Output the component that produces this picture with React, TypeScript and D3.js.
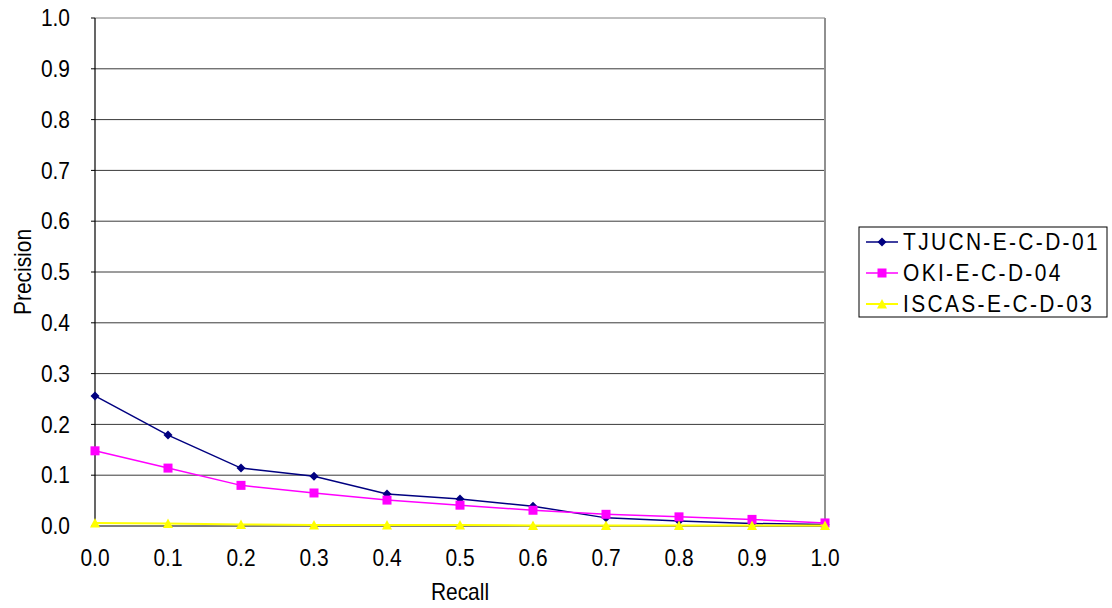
import React from "react";
import * as d3 from "d3";

const recall = [0.0, 0.1, 0.2, 0.3, 0.4, 0.5, 0.6, 0.7, 0.8, 0.9, 1.0];
const tjucn = [0.256, 0.179, 0.114, 0.098, 0.063, 0.053, 0.039, 0.016, 0.01, 0.005, 0.003];
const oki = [0.148, 0.114, 0.08, 0.065, 0.051, 0.041, 0.031, 0.023, 0.018, 0.013, 0.006];
const iscas = [0.006, 0.005, 0.003, 0.002, 0.002, 0.002, 0.001, 0.001, 0.001, 0.001, 0.001];
const seriesNames = ["TJUCN-E-C-D-01", "OKI-E-C-D-04", "ISCAS-E-C-D-03"];
const seriesColors = ["#000080", "#FF00FF", "#FFFF00"];
const yTicks = [0, 0.1, 0.2, 0.3, 0.4, 0.5, 0.6, 0.7, 0.8, 0.9, 1.0];

const W = 1112, H = 608;
const L = 95, R = 825, T = 18, B = 526;
const FONT = "'Liberation Sans', Arial, sans-serif";
const FS = 23;
const SX = 0.91;

function T2({ x, y, anchor, children, rotate, ls, dy }: any) {
  return (
    <text
      transform={`translate(${x},${y})${rotate ? ` rotate(${rotate})` : ""} scale(${SX},1)`}
      textAnchor={anchor || "start"}
      fontFamily={FONT}
      fontSize={FS}
      letterSpacing={ls || 0}
      dy={dy || 0}
      fill="#000"
    >
      {children}
    </text>
  );
}

function Marker({ kind, x, y, color }: { kind: number; x: number; y: number; color: string }) {
  if (kind === 0) {
    const s = 4.5;
    return <path d={`M${x},${y - s}L${x + s},${y}L${x},${y + s}L${x - s},${y}Z`} fill={color} />;
  }
  if (kind === 1) {
    const s = 4.5;
    return <rect x={x - s} y={y - s} width={2 * s} height={2 * s} fill={color} />;
  }
  const s = 5;
  return <path d={`M${x},${y - s}L${x + s},${y + s * 0.9}L${x - s},${y + s * 0.9}Z`} fill={color} />;
}

export default function App() {
  const x = d3.scaleLinear().domain([0, 1]).range([L, R]);
  const y = d3.scaleLinear().domain([0, 1]).range([B, T]);
  const series = [tjucn, oki, iscas];
  const line = d3
    .line<number>()
    .x((_, i) => x(recall[i]))
    .y((d) => y(d));
  const widths = [1.5, 1.5, 2];
  const legendRows = [242, 273, 304];

  return (
    <svg width={W} height={H} style={{ position: "absolute", left: 0, top: 0, background: "#fff" }}>
      {yTicks.filter((t) => t > 0).map((t) => (
        <line key={t} x1={L} x2={R} y1={y(t)} y2={y(t)} stroke={t === 1 ? "#808080" : "#3a3a3a"} strokeWidth={1} />
      ))}
      <line x1={R} x2={R} y1={T} y2={B} stroke="#909090" strokeWidth={2} />
      <line x1={L} x2={L} y1={T} y2={B} stroke="#000" strokeWidth={1.2} />
      <line x1={L} x2={R} y1={B} y2={B} stroke="#000" strokeWidth={1.2} />
      {yTicks.map((t) => (
        <g key={"yt" + t}>
          <line x1={L - 4} x2={L} y1={y(t)} y2={y(t)} stroke="#000" />
          <T2 x={70} y={y(t)} anchor="end" dy="0.36em">{t.toFixed(1)}</T2>
        </g>
      ))}
      {recall.map((t) => (
        <g key={"xt" + t}>
          <line x1={x(t)} x2={x(t)} y1={B - 4} y2={B} stroke="#000" />
          <T2 x={x(t)} y={566} anchor="middle">{t.toFixed(1)}</T2>
        </g>
      ))}
      <T2 x={460} y={600} anchor="middle">Recall</T2>
      <T2 x={31} y={(T + B) / 2} anchor="middle" rotate={-90}>Precision</T2>
      {series.map((s, si) => (
        <g key={"s" + si}>
          <path d={line(s) || ""} fill="none" stroke={seriesColors[si]} strokeWidth={widths[si]} />
          {s.map((v, i) => (
            <Marker key={i} kind={si} x={x(recall[i])} y={y(v)} color={seriesColors[si]} />
          ))}
        </g>
      ))}
      <rect x={859} y={227} width={248} height={90} fill="#fff" stroke="#000" strokeWidth={1} />
      {seriesNames.map((n, i) => (
        <g key={n}>
          <line x1={866} x2={898} y1={legendRows[i]} y2={legendRows[i]} stroke={seriesColors[i]} strokeWidth={widths[i]} />
          <Marker kind={i} x={882} y={legendRows[i]} color={seriesColors[i]} />
          <T2 x={903} y={legendRows[i]} dy="0.36em" ls={2.6}>{n}</T2>
        </g>
      ))}
    </svg>
  );
}
